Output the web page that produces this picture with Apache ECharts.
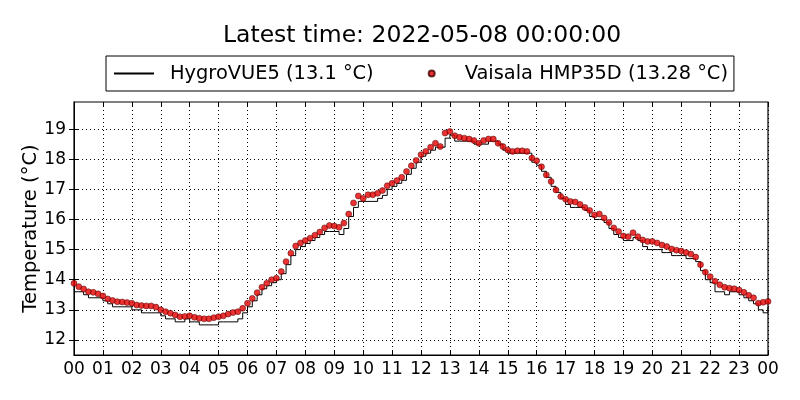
<!DOCTYPE html>
<html lang="en">
<head>
    <meta charset="UTF-8">
    <title>Temperature</title>
    <script src="https://cdn.jsdelivr.net/npm/echarts@6/dist/echarts.min.js" type="text/javascript"></script>
</head>
<body>
<style>
    html, body {
        margin: 0;
        padding: 0;
        background: #fff;
    }

    #main {
        width: 800px;
        height: 400px;
    }
</style>
<div id="main"></div>
<script type="text/javascript">
    var titleText = 'Latest time: 2022-05-08 00:00:00'
    var hygroName = 'HygroVUE5 (13.1 °C)'
    var vaisalaName = 'Vaisala HMP35D (13.28 °C)'

    // y ticks; the axis runs from data min - 1 to data max + 1
    var yTicks = [12, 13, 14, 15, 16, 17, 18, 19]
    var yMin = 11.5
    var yMax = 19.9

    // one reading every 10 minutes, 00:00 .. 24:00
    var vaisala = [
        13.88, 13.77, 13.69, 13.60, 13.58, 13.53,
        13.46, 13.36, 13.31, 13.27, 13.26, 13.24,
        13.22, 13.16, 13.14, 13.13, 13.13, 13.09,
        13.00, 12.94, 12.89, 12.83, 12.77, 12.78,
        12.80, 12.75, 12.72, 12.70, 12.70, 12.74,
        12.77, 12.80, 12.86, 12.91, 12.94, 13.05,
        13.22, 13.38, 13.57, 13.75, 13.88, 14.00,
        14.05, 14.27, 14.60, 14.88, 15.12, 15.22,
        15.30, 15.38, 15.48, 15.58, 15.72, 15.80,
        15.78, 15.74, 15.88, 16.18, 16.55, 16.78,
        16.70, 16.82, 16.82, 16.87, 16.96, 17.12,
        17.20, 17.29, 17.40, 17.59, 17.78, 17.96,
        18.15, 18.26, 18.40, 18.53, 18.42, 18.87,
        18.92, 18.78, 18.73, 18.70, 18.67, 18.62,
        18.53, 18.62, 18.67, 18.67, 18.53, 18.42,
        18.31, 18.26, 18.28, 18.28, 18.26, 18.04,
        17.95, 17.75, 17.48, 17.26, 16.98, 16.76,
        16.67, 16.60, 16.58, 16.50, 16.40, 16.30,
        16.15, 16.18, 16.05, 15.90, 15.72, 15.60,
        15.45, 15.43, 15.56, 15.43, 15.32, 15.27,
        15.27, 15.22, 15.15, 15.10, 15.02, 14.98,
        14.95, 14.90, 14.85, 14.75, 14.50, 14.25,
        14.10, 13.95, 13.83, 13.75, 13.72, 13.70,
        13.66, 13.58, 13.48, 13.40, 13.22, 13.25,
        13.28
    ]

    var hygro = [
        13.6, 13.6, 13.5, 13.4, 13.4, 13.4,
        13.3, 13.2, 13.1, 13.1, 13.1, 13.1,
        13.0, 13.0, 12.9, 12.9, 12.9, 12.9,
        12.8, 12.7, 12.7, 12.6, 12.6, 12.7,
        12.6, 12.6, 12.5, 12.5, 12.5, 12.5,
        12.6, 12.6, 12.6, 12.6, 12.7, 12.9,
        13.1, 13.3, 13.5, 13.7, 13.8, 13.9,
        14.0, 14.2, 14.5, 14.8, 15.0, 15.1,
        15.2, 15.3, 15.4, 15.5, 15.6, 15.6,
        15.6, 15.5, 15.7, 16.1, 16.4, 16.6,
        16.6, 16.6, 16.6, 16.7, 16.8, 17.0,
        17.1, 17.2, 17.3, 17.5, 17.7, 17.9,
        18.1, 18.2, 18.3, 18.4, 18.4, 18.7,
        18.8, 18.6, 18.6, 18.6, 18.6, 18.5,
        18.5, 18.5, 18.6, 18.6, 18.5, 18.3,
        18.2, 18.2, 18.2, 18.2, 18.2, 17.9,
        17.8, 17.6, 17.4, 17.1, 16.9, 16.7,
        16.5, 16.4, 16.4, 16.4, 16.3, 16.1,
        16.0, 16.0, 15.9, 15.7, 15.5, 15.4,
        15.3, 15.3, 15.4, 15.3, 15.1, 15.0,
        15.0, 15.0, 14.9, 14.9, 14.8, 14.8,
        14.8, 14.7, 14.7, 14.6, 14.3, 14.0,
        13.9, 13.6, 13.6, 13.5, 13.6, 13.6,
        13.5, 13.4, 13.3, 13.2, 13.0, 12.9,
        13.1
    ]

    var hours = vaisala.map((v, i) => i / 6)

    var font = 'DejaVu Sans'

    function hourLabel(v) {
        return String(Math.round(v) % 24).padStart(2, '0')
    }

    var tickStyle = {show: true, inside: true, length: 5, lineStyle: {color: '#000', width: 1}}
    var gridLine = {show: true, lineStyle: {color: '#000', width: 1, type: [1, 3]}}

    var option = {
        animation: false,
        backgroundColor: '#fff',
        title: {
            text: titleText,
            left: 417,
            textAlign: 'center',
            top: 19,
            textStyle: {fontFamily: font, fontSize: 23.5, fontWeight: 'normal', color: '#000'}
        },
        legend: {
            left: 106,
            top: 56,
            padding: [8, 6, 8, 7],
            itemGap: 54,
            itemWidth: 40,
            itemHeight: 6,
            borderColor: '#000',
            borderWidth: 1,
            borderRadius: 0,
            textStyle: {fontFamily: font, fontSize: 19.4, color: '#000', padding: [0, 0, 0, 11]},
            data: [
                {name: hygroName, itemStyle: {opacity: 0}},
                {name: vaisalaName, icon: 'circle', textStyle: {padding: [0, 0, 0, 8]}}
            ]
        },
        grid: {
            left: 74,
            right: 32,
            top: 102,
            bottom: 45,
            show: true,
            borderColor: '#000',
            borderWidth: 1.2
        },
        xAxis: [{
            type: 'value',
            min: 0,
            max: 24,
            interval: 1,
            axisLine: {show: true, lineStyle: {color: '#000'}},
            axisTick: tickStyle,
            splitLine: gridLine,
            axisLabel: {
                margin: 6,
                fontFamily: font,
                fontSize: 17,
                color: '#000',
                formatter: hourLabel
            }
        }, {
            type: 'value',
            position: 'top',
            min: 0,
            max: 24,
            interval: 1,
            axisLine: {show: false},
            axisTick: tickStyle,
            splitLine: {show: false},
            axisLabel: {show: false}
        }],
        yAxis: [{
            type: 'value',
            min: yMin,
            max: yMax,
            name: 'Temperature (°C)',
            nameLocation: 'middle',
            nameGap: 33,
            nameMoveOverlap: false,
            nameTextStyle: {fontFamily: font, fontSize: 19.5, color: '#000'},
            axisLine: {show: true, lineStyle: {color: '#000'}},
            axisTick: Object.assign({customValues: yTicks}, tickStyle),
            splitLine: gridLine,
            axisLabel: {
                customValues: yTicks,
                margin: 8,
                fontFamily: font,
                fontSize: 17,
                color: '#000'
            }
        }, {
            type: 'value',
            position: 'right',
            min: yMin,
            max: yMax,
            axisLine: {show: false},
            axisTick: Object.assign({customValues: yTicks}, tickStyle),
            splitLine: {show: false},
            axisLabel: {show: false}
        }],
        series: [{
            name: hygroName,
            type: 'line',
            step: 'end',
            symbol: 'none',
            lineStyle: {color: '#000', width: 1},
            itemStyle: {color: '#000'},
            data: hours.map((h, i) => [h, hygro[i]]),
            z: 2
        }, {
            name: vaisalaName,
            type: 'scatter',
            symbol: 'circle',
            symbolSize: 6,
            itemStyle: {color: '#e60000', borderColor: '#400', borderWidth: 0.6},
            data: hours.map((h, i) => [h, vaisala[i]]),
            z: 3
        }]
    }

    var myChart = echarts.init(document.getElementById('main'))
    myChart.setOption(option)
</script>
</body>
</html>
